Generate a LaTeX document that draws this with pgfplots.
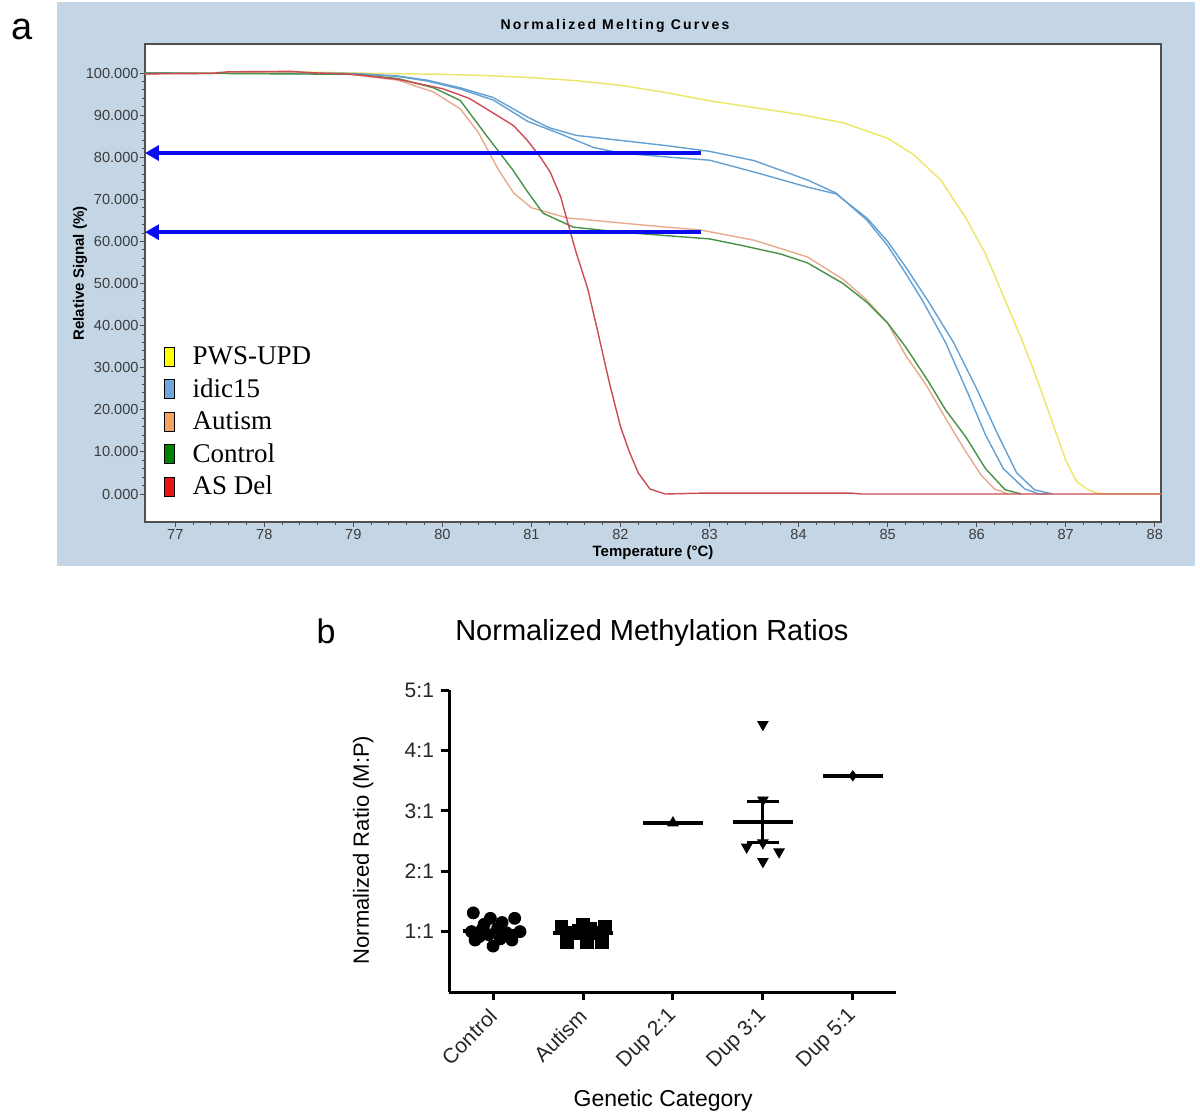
\documentclass[border=0pt]{standalone}
\usepackage{fontspec}
\setmainfont{Liberation Sans}
\newfontfamily\legfont{Liberation Serif}
\newfontfamily\spacedfont[LetterSpace=16]{Liberation Sans}
\usepackage{pgfplots}
\pgfplotsset{compat=1.18}
\usetikzlibrary{arrows.meta}
\definecolor{bgblue}{RGB}{196,213,230}
\definecolor{axisgray}{RGB}{80,80,80}
\definecolor{ticklab}{RGB}{60,60,60}
\definecolor{cY}{RGB}{236,230,100}
\definecolor{cB}{RGB}{100,160,210}
\definecolor{cO}{RGB}{232,170,140}
\definecolor{cG}{RGB}{70,145,70}
\definecolor{cR}{RGB}{205,75,85}
\definecolor{lY}{RGB}{255,255,0}
\definecolor{lB}{RGB}{111,168,220}
\definecolor{lO}{RGB}{244,164,96}
\definecolor{lG}{RGB}{0,130,0}
\definecolor{lR}{RGB}{235,20,20}
\definecolor{arrowblue}{RGB}{10,10,240}
\pgfplotsset{legsq/.style={legend image code/.code={\draw[fill=#1,draw=black,line width=0.5pt] (0pt,-4.75pt) rectangle (5pt,4.75pt);}}}
\begin{document}
\begin{tikzpicture}
\path[use as bounding box] (0,0) rectangle (600pt,558pt);
\fill[bgblue] (28.5pt,275pt) rectangle (597.5pt,557pt);
\node[font=\fontsize{19}{19}\selectfont] at (11pt,543.5pt) {a};
\node[font=\fontsize{17}{17}\selectfont] at (163pt,242.5pt) {b};
% ---------------- panel a ----------------
\begin{axis}[at={(72.5pt,297pt)}, anchor=south west, scale only axis,
  width=508pt, height=239pt,
  xmin=76.66, xmax=88.07, ymin=-6.65, ymax=106.9,
  axis background/.style={fill=white},
  axis line style={draw=axisgray, line width=0.8pt},
  tick style={axisgray, line width=0.5pt},
  xtick pos=bottom, ytick pos=left, tick align=outside,
  major tick length=2.5pt, minor tick length=1.5pt,
  xtick={77,78,79,80,81,82,83,84,85,86,87,88},
  xticklabels={77,78,79,80,81,82,83,84,85,86,87,88},
  ytick={0,10,20,30,40,50,60,70,80,90,100},
  yticklabels={0.000,10.000,20.000,30.000,40.000,50.000,60.000,70.000,80.000,90.000,100.000},
  minor y tick num=4, minor x tick num=4,
  ticklabel style={font=\fontsize{7.3}{7.3}\selectfont, text=ticklab},
  yticklabel style={inner xsep=0.5pt},
  xticklabel style={inner ysep=1pt},
  title={\spacedfont\bfseries Normalized Melting Curves},
  title style={at={(axis description cs:0.4626,1.0126)}, anchor=center, font=\fontsize{7}{8}\selectfont},
  xlabel={\bfseries Temperature (\textdegree C)},
  xlabel style={at={(axis description cs:0.5,-0.065)}, anchor=center, font=\fontsize{7.5}{8}\selectfont},
  ylabel={\bfseries Relative Signal (\%)},
  ylabel style={at={(axis description cs:-0.064,0.52)}, anchor=center, font=\fontsize{7.5}{8}\selectfont},
  legend style={at={(axis description cs:0.018,0.377)}, anchor=north west, draw=none, fill=none,
    font=\legfont\fontsize{13.5}{15}\selectfont, row sep=1.6pt, column sep=1pt,
    inner sep=0pt, nodes={inner xsep=8pt}},
  legend cell align=left,
  every axis plot/.append style={line width=0.7pt},
]
\addplot[cY, legsq=lY] coordinates {(76.66,99.8)(77.5,100.1)(78.3,100.3)(79,100)(80,99.7)(80.5,99.4)(81,98.9)(81.5,98.2)(82,97.1)(82.5,95.4)(83,93.4)(83.5,91.8)(84,90.2)(84.5,88.2)(85,84.5)(85.3,80.5)(85.6,74.5)(85.88,65.5)(86.1,57)(86.3,47)(86.5,37)(86.63,30)(86.8,20)(86.9,14)(87.0,8)(87.12,3)(87.25,1)(87.35,0.2)(87.5,0)(88.07,0)};
\addlegendentry{PWS-UPD}
\addplot[cB, legsq=lB] coordinates {(76.66,100)(79,99.9)(79.5,99.3)(79.83,98.3)(80.2,96.5)(80.57,94.2)(80.96,89.5)(81.2,87)(81.5,85.2)(82,84)(82.5,82.8)(83,81.4)(83.5,79.2)(84.1,74.6)(84.42,71.5)(84.77,65)(85.0,59)(85.2,52.5)(85.39,46)(85.65,36)(85.9,24)(86.1,14)(86.3,6)(86.54,1.2)(86.7,0)(86.8,0)};
\addlegendentry{idic15}
\addplot[cB, forget plot] coordinates {(76.66,100)(79,99.9)(79.5,99.2)(79.83,98.1)(80.2,96.2)(80.57,93.6)(80.96,88.5)(81.33,85.5)(81.7,82.3)(82,81)(82.5,80.1)(83,79.3)(83.5,76.5)(84.1,72.9)(84.42,71.3)(84.77,65.5)(85,60)(85.2,54)(85.45,46)(85.74,36)(86,25)(86.24,14)(86.45,5)(86.65,1)(86.85,0)};
\addplot[cO, legsq=lO] coordinates {(76.66,99.8)(77.5,100.1)(78.3,100.3)(78.6,100)(79,99.6)(79.5,98.3)(79.9,95.5)(80.2,91.5)(80.4,86)(80.63,77)(80.8,71.5)(81.0,68)(81.4,65.6)(81.8,64.8)(82.3,63.8)(82.9,62.7)(83.5,60.3)(84.1,56.3)(84.5,51)(84.77,46)(85.0,40.6)(85.2,33)(85.43,26)(85.65,18)(85.88,10)(86.05,4.5)(86.2,1.2)(86.35,0)};
\addlegendentry{Autism}
\addplot[cG, legsq=lG] coordinates {(76.66,100)(79,99.7)(79.5,98.7)(79.9,96.5)(80.2,93.5)(80.5,85)(80.79,77)(80.95,72)(81.13,66.7)(81.47,63.4)(82,62.2)(82.5,61.4)(83,60.6)(83.35,59.1)(83.8,57)(84.1,54.9)(84.5,50)(84.77,45.5)(85.0,40.6)(85.2,35)(85.45,27)(85.65,20)(85.88,13.5)(86.1,6)(86.32,1)(86.5,0)};
\addlegendentry{Control}
\addplot[cR, legsq=lR] coordinates {(76.66,99.8)(77.4,99.9)(77.6,100.3)(78.3,100.4)(78.5,100.1)(79,99.7)(79.5,98.5)(80,96.3)(80.3,94)(80.57,90.5)(80.8,87.5)(80.95,84.1)(81.1,80)(81.21,76.5)(81.33,70.5)(81.39,65.8)(81.5,57.5)(81.63,48.9)(81.74,39)(81.88,26)(82.0,16)(82.1,10)(82.2,5)(82.33,1.2)(82.5,0)(82.9,0.2)(84.6,0.2)(84.7,0)(88.07,0)};
\addlegendentry{AS Del}
\draw[arrowblue, line width=2pt, -{Triangle[length=7pt,width=7.5pt]}] (axis cs:82.9,81) -- (axis cs:76.66,81);
\draw[arrowblue, line width=2pt, -{Triangle[length=7pt,width=7.5pt]}] (axis cs:82.9,62.2) -- (axis cs:76.66,62.2);
\end{axis}
% ---------------- panel b ----------------
\begin{axis}[at={(224.5pt,62pt)}, anchor=south west, scale only axis,
  width=223.5pt, height=151pt,
  xmin=-0.49, xmax=4.48, ymin=0, ymax=5,
  axis x line*=bottom, axis y line*=left,
  axis line style={-, line width=1.5pt, black},
  tick style={line width=1.5pt, black},
  tick align=outside, major tick length=4pt,
  xtick={0,1,2,3,4},
  xticklabels={Control,Autism,Dup 2:1,Dup 3:1,Dup 5:1},
  ytick={1,2,3,4,5},
  yticklabels={1:1,2:1,3:1,4:1,5:1},
  ticklabel style={font=\fontsize{10.5}{11}\selectfont, text=black!85},
  xticklabel style={yshift=-4pt, xshift=2.5pt, rotate=45, anchor=east},
  title={Normalized Methylation Ratios},
  title style={at={(axis description cs:0.454,1.149)}, anchor=center, font=\fontsize{14.5}{15}\selectfont},
  xlabel={Genetic Category},
  xlabel style={at={(axis description cs:0.479,-0.358)}, anchor=center, font=\fontsize{11.5}{12}\selectfont},
  ylabel={Normalized Ratio (M:P)},
  ylabel style={at={(axis description cs:-0.192,0.47)}, anchor=center, font=\fontsize{11}{12}\selectfont},
  clip=false,
]
\addplot[only marks, mark=*, mark size=3pt, black] coordinates {(-0.22,1.31)(-0.03,1.22)(0.24,1.22)(0.1,1.15)(-0.1,1.12)(-0.24,1.0)(0.3,1.0)(-0.12,1.04)(0.05,1.05)(0.15,0.98)(-0.05,0.95)(-0.15,0.92)(0.2,0.9)(-0.2,0.86)(0.21,0.86)(0.0,0.76)(0.08,0.88)};
\addplot[only marks, mark=square*, mark size=3.2pt, black] coordinates {(0.76,1.08)(1,1.11)(1.24,1.08)(0.82,0.83)(1.04,0.83)(1.21,0.83)(0.9,0.98)(1.12,0.98)(0.95,1.02)(1.08,1.05)};
\addplot[only marks, mark=triangle*, mark size=3pt, black] coordinates {(2,2.80)};
\addplot[only marks, mark=triangle*, mark size=3pt, mark options={rotate=180}, black] coordinates {(3,4.43)(3,3.18)(2.82,2.40)(3,2.47)(3.18,2.32)(3,2.16)};
\addplot[only marks, mark=diamond*, mark size=2.5pt, black] coordinates {(4,3.58)};
\addplot[black, line width=2pt] coordinates {(-0.33,1.01)(0.33,1.01)};
\addplot[black, line width=2pt] coordinates {(0.67,0.98)(1.33,0.98)};
\addplot[black, line width=2pt] coordinates {(1.67,2.80)(2.33,2.80)};
\addplot[black, line width=2pt] coordinates {(2.67,2.82)(3.33,2.82)};
\addplot[black, line width=2pt] coordinates {(3.67,3.58)(4.33,3.58)};
\addplot[black, line width=1.5pt] coordinates {(3,2.47)(3,3.16)};
\addplot[black, line width=1.5pt] coordinates {(2.82,3.16)(3.18,3.16)};
\addplot[black, line width=1.5pt] coordinates {(2.82,2.47)(3.18,2.47)};
\end{axis}
\end{tikzpicture}
\end{document}
